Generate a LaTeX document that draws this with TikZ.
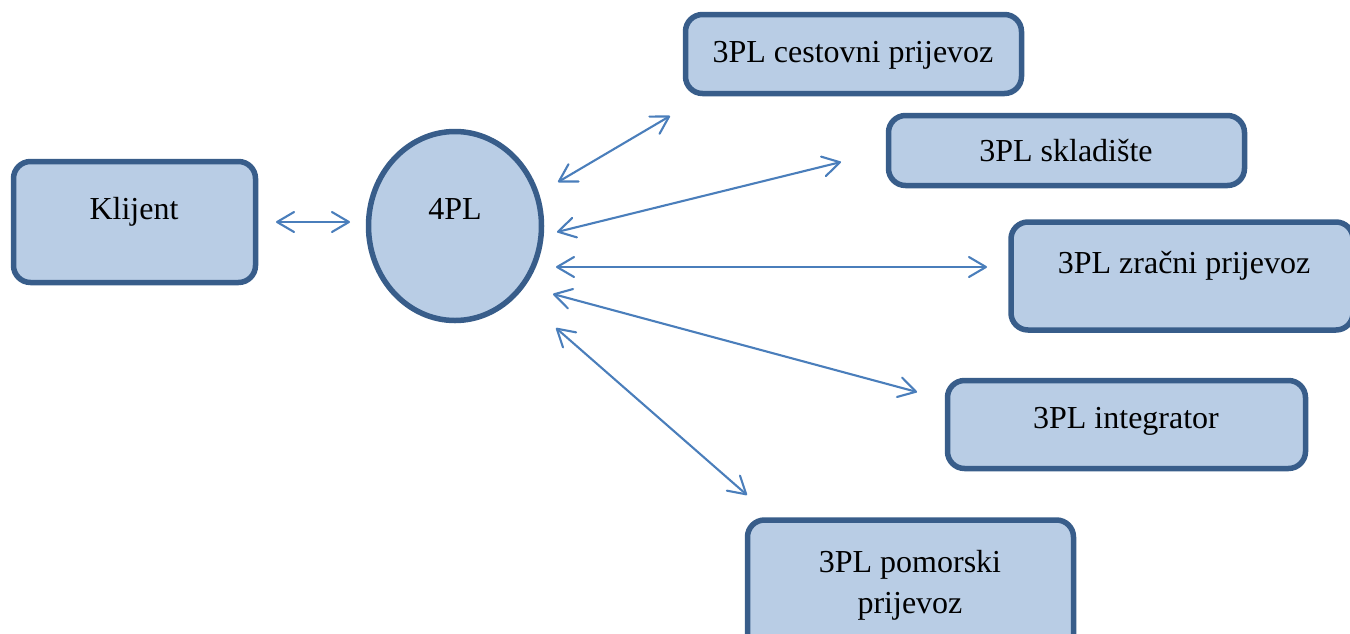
\documentclass[tikz,border=0pt]{standalone}
\usepackage{fontspec}
\setmainfont{Liberation Serif}
\usetikzlibrary{arrows.meta,shapes.geometric}
\definecolor{fillblue}{HTML}{B9CDE5}
\definecolor{edgeblue}{HTML}{385D8A}
\definecolor{linkblue}{HTML}{4A7EBB}
\begin{document}
\begin{tikzpicture}[x=1pt,y=-1pt,
  boxshape/.style={draw=edgeblue,fill=fillblue,line width=5.5pt,rounded corners=17pt,inner sep=0pt,outer sep=0pt},
  roundshape/.style={ellipse,draw=edgeblue,fill=fillblue,line width=5.5pt,inner sep=0pt,outer sep=0pt},
  lbl/.style={font=\fontsize{32}{40}\selectfont,anchor=base,inner sep=0pt,text=black,align=center},
  link/.style={draw=linkblue,line width=2.1pt,line cap=round,{Straight Barb[length=17pt,width=20pt,line width=2.1pt,round]}-{Straight Barb[length=17pt,width=20pt,line width=2.1pt,round]}}]
\useasboundingbox (0,0) rectangle (1350,633);
\path[clip] (0,0) rectangle (1350,633);
\node[boxshape,minimum width=242pt,minimum height=121pt] (klijent) at (134.5,222) {};
\node[roundshape,minimum width=173pt,minimum height=189pt] (fourpl) at (455,226) {};
\node[boxshape,minimum width=336pt,minimum height=79pt] (cestovni) at (853.5,54) {};
\node[boxshape,minimum width=356pt,minimum height=70pt] (skladiste) at (1066.5,150.5) {};
\node[boxshape,minimum width=342pt,minimum height=108pt] (zracni) at (1182,276) {};
\node[boxshape,minimum width=358pt,minimum height=88pt] (integrator) at (1126.5,424.5) {};
\node[boxshape,minimum width=326pt,minimum height=152pt] (pomorski) at (910.5,596) {};
\node[lbl] (tk) at (134,219) {Klijent};
\node[lbl] (t4) at (455,219) {4PL};
\node[lbl] (tc) at (853,62) {3PL cestovni prijevoz};
\node[lbl] (ts) at (1066,161) {3PL skladište};
\node[lbl] (tz) at (1184,273) {3PL zračni prijevoz};
\node[lbl] (ti) at (1126,428) {3PL integrator};
\node[lbl] (tp1) at (910,572) {3PL pomorski};
\node[lbl] (tp2) at (910,613) {prijevoz};
\coordinate (a1) at (276,222); \coordinate (a2) at (350,222);
\coordinate (b1) at (558,182); \coordinate (b2) at (670,116);
\coordinate (c1) at (557,232); \coordinate (c2) at (841,162);
\coordinate (d1) at (556,267); \coordinate (d2) at (987,267);
\coordinate (e1) at (553,294); \coordinate (e2) at (917,392);
\coordinate (f1) at (556,328); \coordinate (f2) at (747,495);
\draw[link] (a1) -- (a2);
\draw[link] (b1) -- (b2);
\draw[link] (c1) -- (c2);
\draw[link] (d1) -- (d2);
\draw[link] (e1) -- (e2);
\draw[link] (f1) -- (f2);
\end{tikzpicture}
\end{document}
